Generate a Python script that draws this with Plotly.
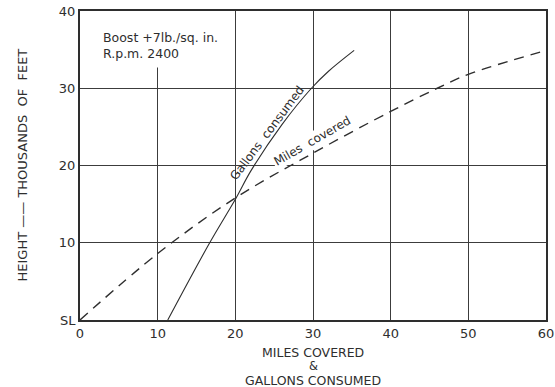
import plotly.graph_objects as go

# Data
miles_x = [0, 10, 20, 30, 40, 46, 50, 60]
miles_y = [0, 8.6, 15.8, 21.6, 27.0, 30.0, 31.8, 34.9]

gallons_x = [11.3, 16.7, 20.1, 22.0, 26.0, 29.8, 32.0, 35.3]
gallons_y = [0, 10.0, 15.8, 19.3, 25.3, 30.0, 32.2, 34.9]

x_ticks = [0, 10, 20, 30, 40, 50, 60]
x_ticktext = ["0", "10", "20", "30", "40", "50", "60"]
y_ticks = [0, 10, 20, 30, 40]
y_ticktext = ["SL", "10", "20", "30", "40"]

INK = "#2e2e2e"
FONT = "DejaVu Sans"
NB = "\u00a0"

fig = go.Figure()
fig.add_trace(go.Scatter(
    x=miles_x, y=miles_y, mode="lines", line_shape="spline",
    line=dict(color=INK, width=1.4, dash="10px,7px"), hoverinfo="skip",
    showlegend=False))
fig.add_trace(go.Scatter(
    x=gallons_x, y=gallons_y, mode="lines", line_shape="spline",
    line=dict(color=INK, width=1.1), hoverinfo="skip", showlegend=False))

# white patch behind the boost text (breaks the gridline like the original)
fig.add_shape(type="rect", x0=1.5, x1=18.5, y0=32.7, y1=40, xref="x", yref="y",
              fillcolor="white", line_width=0, layer="between")

fig.add_annotation(x=2.7, y=35.5, xref="x", yref="y", xanchor="left", yanchor="middle",
                   text="Boost +7lb./sq. in.<br>R.p.m. 2400", align="left",
                   showarrow=False, font=dict(family=FONT, size=12.5, color=INK))

fig.add_annotation(x=24.1, y=24.2, xref="x", yref="y", text="Gallons" + NB + NB + "consumed",
                   textangle=-53, showarrow=False,
                   font=dict(family=FONT, size=12, color=INK))
fig.add_annotation(x=29.9, y=23.2, xref="x", yref="y", text="Miles" + NB + NB + "covered",
                   textangle=-30, showarrow=False, bgcolor="white", borderpad=1,
                   font=dict(family=FONT, size=12, color=INK))

for txt, dy, sz in [("MILES" + NB + "COVERED", -32, 12.5), ("&", -46, 11.5),
                    ("GALLONS" + NB + "CONSUMED", -60, 12.5)]:
    fig.add_annotation(x=0.5, y=0, xref="paper", yref="paper", xanchor="center",
                       yanchor="middle", yshift=dy, text=txt, showarrow=False,
                       font=dict(family=FONT, size=sz, color=INK))

fig.add_annotation(x=0, y=0.5, xref="paper", yref="paper", xanchor="center", yanchor="middle",
                   xshift=-58,
                   text="HEIGHT" + NB + "——" + NB + "THOUSANDS" + NB + NB + "OF" + NB + NB + "FEET",
                   textangle=-90, showarrow=False,
                   font=dict(family=FONT, size=13, color=INK))

axis_common = dict(showgrid=True, gridcolor="#3c3c3c", gridwidth=1,
                   showline=True, linecolor=INK, linewidth=2, mirror=True,
                   zeroline=False, ticks="", automargin=False,
                   tickfont=dict(family=FONT, size=13, color=INK))
fig.update_xaxes(range=[0, 60], tickvals=x_ticks, ticktext=x_ticktext, **axis_common)
fig.update_yaxes(range=[0, 40], tickvals=y_ticks, ticktext=y_ticktext, **axis_common)

fig.update_layout(width=555, height=387, margin=dict(l=80, r=9, t=11, b=67),
                  paper_bgcolor="white", plot_bgcolor="white")

fig.write_html("out.html", config={"displayModeBar": False},
               post_script="document.body.style.margin='0';document.body.style.overflow='hidden';")
